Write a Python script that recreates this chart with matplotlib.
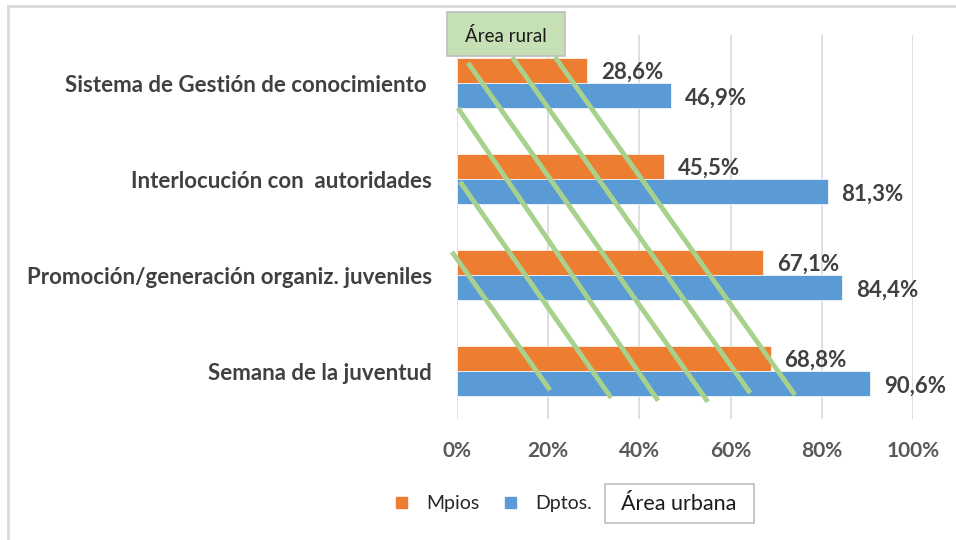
import matplotlib.pyplot as plt
from matplotlib.patches import Rectangle
from matplotlib.lines import Line2D
import numpy as np

# datos (de arriba hacia abajo)
categorias = ['Sistema de Gestión de conocimiento ',
              'Interlocución con  autoridades',
              'Promoción/generación organiz. juveniles',
              'Semana de la juventud']
mpios = [28.6, 45.5, 67.1, 68.8]
dptos = [46.9, 81.3, 84.4, 90.6]
ticks = [0, 20, 40, 60, 80, 100]

# lineas verdes de "área rural" (en unidades de datos: %, posición de categoría)
lineas_rurales = [
    ((2.4, -0.21), (55.0, 3.32)),
    ((12.1, -0.27), (64.3, 3.23)),
    ((21.5, -0.27), (74.1, 3.25)),
    ((0.2, 0.26), (44.1, 3.31)),
    ((0.7, 1.03), (33.8, 3.28)),
    ((-1.1, 1.76), (20.4, 3.20)),
]

naranja = '#ED7D31'
azul = '#5B9BD5'
verde = '#A9D18E'
gris_texto = '#404040'
gris_eje = '#595959'

plt.rcParams['font.family'] = ['Lato', 'DejaVu Sans']

W, H = 956, 540
fig = plt.figure(figsize=(W / 100, H / 100), dpi=100)
ax = fig.add_axes([457 / W, 1 - 419 / H, (913 - 457) / W, (419 - 35) / H])

y = np.arange(len(categorias))
h = 0.26
ax.barh(y - h / 2, mpios, height=h, color=naranja, edgecolor='white', linewidth=0.5, zorder=2)
ax.barh(y + h / 2, dptos, height=h, color=azul, edgecolor='white', linewidth=0.5, zorder=2)

for i in range(len(categorias)):
    ax.annotate(f'{mpios[i]:.1f}%'.replace('.', ','), (mpios[i], y[i] - h / 2),
                xytext=(10, -1), textcoords='offset points', va='center', ha='left',
                fontsize=16, fontweight='bold', color=gris_texto)
    ax.annotate(f'{dptos[i]:.1f}%'.replace('.', ','), (dptos[i], y[i] + h / 2),
                xytext=(10, -2), textcoords='offset points', va='center', ha='left',
                fontsize=16, fontweight='bold', color=gris_texto)

for (x0, y0), (x1, y1) in lineas_rurales:
    ax.add_line(Line2D([x0, x1], [y0, y1], color=verde, linewidth=3.5, clip_on=False,
                       solid_capstyle='butt', zorder=3))

ax.set_xlim(0, 100)
ax.set_ylim(len(categorias) - 0.5, -0.5)
ax.set_xticks(ticks)
ax.set_xticklabels([f'{t}%' for t in ticks])
ax.set_yticks(y)
ax.set_yticklabels(categorias)
ax.grid(axis='x', color='#D9D9D9', linewidth=1.2, zorder=0)
ax.set_axisbelow(True)
for s in ax.spines.values():
    s.set_visible(False)
ax.tick_params(axis='x', length=0, pad=16, labelsize=15, labelcolor=gris_eje)
ax.tick_params(axis='y', length=0, pad=18, labelsize=16, labelcolor=gris_texto)
for lab in ax.get_xticklabels() + ax.get_yticklabels():
    lab.set_fontweight('bold')

# leyenda
handles = [Rectangle((0, 0), 1, 1, color=naranja), Rectangle((0, 0), 1, 1, color=azul)]
fig.legend(handles, ['Mpios', 'Dptos.'], loc='center', bbox_to_anchor=(494 / W, 1 - 504 / H),
           ncol=2, frameon=False, fontsize=14, handlelength=0.55, handleheight=0.55,
           handletextpad=1.0, columnspacing=1.3, labelcolor='#262626')

# cajas de texto
caja_rural = Rectangle((447 / W, 1 - 56 / H), 118 / W, 44 / H, transform=fig.transFigure,
                       facecolor='#C5E0B4', edgecolor='#BFBFBF', linewidth=1.2, zorder=5)
caja_urbana = Rectangle((605 / W, 1 - 523 / H), 149 / W, 39 / H, transform=fig.transFigure,
                        facecolor='white', edgecolor='#BFBFBF', linewidth=1.2, zorder=5)
fig.patches.extend([caja_rural, caja_urbana])
fig.text(506 / W, 1 - 36 / H, 'Área rural', ha='center', va='center', fontsize=13.5,
         color='#1a1a1a', zorder=6)
fig.text(679 / W, 1 - 504 / H, 'Área urbana', ha='center', va='center', fontsize=15.5,
         color='#1a1a1a', zorder=6)

# borde del gráfico
fig.patches.append(Rectangle((8 / W, -0.1), 1.2, 1 - 6 / H + 0.1, transform=fig.transFigure,
                             fill=False, edgecolor='#D9D9D9', linewidth=2))

fig.savefig('out.png', dpi=100)
